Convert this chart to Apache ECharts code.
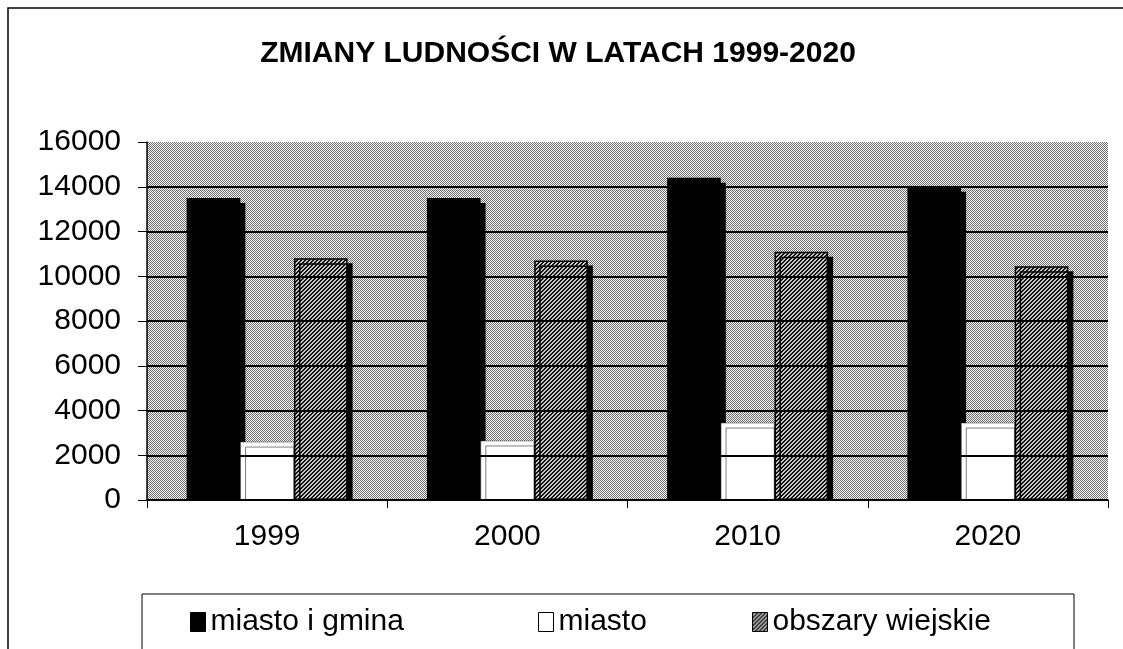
<!DOCTYPE html>
<html>
<head>
<meta charset="utf-8">
<script src="https://cdn.jsdelivr.net/npm/echarts@6/dist/echarts.min.js"></script>
<style>
html,body{margin:0;padding:0;background:#fff;}
#chart{width:1123px;height:649px;}
</style>
</head>
<body>
<div id="chart"></div>
<script>
// ---- data ----
const categories = ['1999', '2000', '2010', '2020'];
const miastoIGmina = [13500, 13500, 14400, 14000];
const miasto = [2600, 2650, 3450, 3450];
const obszaryWiejskie = [10800, 10700, 11100, 10450];
const seriesNames = ['miasto i gmina', 'miasto', 'obszary wiejskie'];
const yTicks = { min: 0, max: 16000, interval: 2000 };

// ---- patterns ----
function makeTile(size, fn) {
  const c = document.createElement('canvas');
  c.width = size; c.height = size;
  const ctx = c.getContext('2d');
  for (let x = 0; x < size; x++) {
    for (let y = 0; y < size; y++) {
      ctx.fillStyle = fn(x, y);
      ctx.fillRect(x, y, 1, 1);
    }
  }
  return c;
}
const bgPattern = {
  image: makeTile(2, (x, y) => ((x + y) % 2 === 0 ? '#6e6e6e' : '#f6f6f6')),
  repeat: 'repeat'
};
const hatchPattern = {
  image: makeTile(4, (x, y) => ((x + y) % 4 < 2 ? '#111111' : '#c8c8c8')),
  repeat: 'repeat'
};

const FONT = "'Liberation Sans', Arial, sans-serif";
const chart = echarts.init(document.getElementById('chart'), null, { renderer: 'canvas' });

const shadow = { shadowColor: '#000', shadowBlur: 0, shadowOffsetX: 5, shadowOffsetY: 5 };
const noShadow = { shadowColor: 'rgba(0,0,0,0)', shadowBlur: 0, shadowOffsetX: 0, shadowOffsetY: 0 };

function legendFor(name, left) {
  return {
    data: [name],
    left: left,
    top: 607,
    icon: 'rect',
    itemWidth: 15,
    itemHeight: 19,
    itemGap: 0,
    padding: 0,
    selectedMode: false,
    itemStyle: Object.assign({ borderColor: '#000', borderWidth: 1 }, noShadow),
    textStyle: { fontFamily: FONT, fontSize: 30, color: '#000' }
  };
}

const option = {
  animation: false,
  backgroundColor: '#fff',
  title: {
    text: 'ZMIANY LUDNOŚCI W LATACH 1999-2020',
    left: 553,
    textAlign: 'center',
    top: 34,
    textStyle: { fontFamily: FONT, fontSize: 30, fontWeight: 'bold', color: '#000' }
  },
  legend: [
    legendFor(seriesNames[0], 190),
    legendFor(seriesNames[1], 538),
    legendFor(seriesNames[2], 752)
  ],
  grid: {
    left: 147, right: 15, top: 142, bottom: 149,
    show: true, backgroundColor: bgPattern, borderWidth: 0
  },
  xAxis: {
    type: 'category',
    data: categories,
    z: 20,
    axisLine: { lineStyle: { color: '#000', width: 1.5 } },
    axisTick: { show: true, length: 8, lineStyle: { color: '#000', width: 1 } },
    axisLabel: { fontFamily: FONT, fontSize: 30, color: '#000', margin: 22 }
  },
  yAxis: {
    type: 'value',
    min: yTicks.min, max: yTicks.max, interval: yTicks.interval,
    z: 20,
    axisLine: { show: true, lineStyle: { color: '#000', width: 1.5 } },
    axisTick: { show: true, length: 9, lineStyle: { color: '#000', width: 1 } },
    axisLabel: { fontFamily: FONT, fontSize: 30, color: '#000', margin: 26,
      formatter: (v) => String(v) },
    splitLine: {
      show: true,
      lineStyle: {
        color: ['#000', '#000', '#000', '#000', '#000', '#000', '#000', '#000', 'rgba(0,0,0,0)'],
        width: 2
      }
    }
  },
  graphic: [
    { type: 'rect', z: 10, silent: true,
      shape: { x: 140, y: 501, width: 975, height: 7 },
      style: { fill: '#fff' } },
    { type: 'rect', z: 10, silent: true,
      shape: { x: 142, y: 594, width: 932, height: 80 },
      style: { fill: 'rgba(0,0,0,0)', stroke: '#000', lineWidth: 1 } },
    { type: 'polyline', z: 10, silent: true,
      shape: { points: [[8, 660], [8, 8], [1130, 8]] },
      style: { fill: null, stroke: '#000', lineWidth: 1.5 } }
  ],
  series: [
    {
      name: seriesNames[0], type: 'bar', data: miastoIGmina,
      barGap: '0%', barCategoryGap: '33%',
      itemStyle: Object.assign({ color: '#000' }, shadow)
    },
    {
      name: seriesNames[1], type: 'bar', data: miasto,
      barGap: '0%', barCategoryGap: '33%',
      itemStyle: Object.assign({ color: '#fff', borderColor: '#444', borderWidth: 0.5 }, shadow)
    },
    {
      name: seriesNames[2], type: 'bar', data: obszaryWiejskie,
      barGap: '0%', barCategoryGap: '33%',
      itemStyle: Object.assign({ color: hatchPattern, borderColor: '#000', borderWidth: 1.5 }, shadow)
    }
  ]
};
chart.setOption(option);
</script>
</body>
</html>
